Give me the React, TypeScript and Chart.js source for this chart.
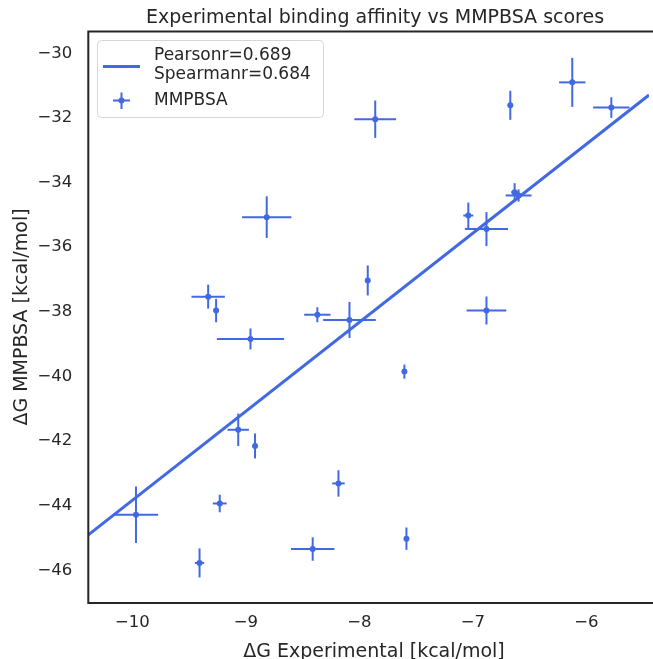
import React, { useEffect, useRef } from "react";
import { Chart, registerables } from "chart.js";

Chart.register(...registerables);

// ---- data ----
const expDG = [-6.125, -5.781, -6.671, -7.861, -6.633, -6.598, -7.041, -6.881, -6.881, -7.927, -8.817, -9.333, -9.263, -8.371, -8.088, -8.96, -7.604, -9.068, -8.92, -8.185, -9.231, -9.969, -8.412, -9.409, -7.586];
const mmpbsaDG = [-30.9, -31.68, -31.61, -32.04, -34.3, -34.4, -35.02, -35.44, -37.96, -37.03, -35.07, -37.53, -37.96, -38.09, -38.25, -38.84, -39.85, -41.65, -42.15, -43.31, -43.93, -44.28, -45.34, -45.77, -45.02];
const expErr = [0.116, 0.16, 0, 0.184, 0.03, 0.114, 0.044, 0.19, 0.175, 0, 0.217, 0.147, 0.02, 0.116, 0.232, 0.296, 0, 0.094, 0, 0.055, 0.061, 0.195, 0.191, 0.041, 0];
const mmpbsaErr = [0.758, 0.319, 0.449, 0.578, 0.28, 0.19, 0.4, 0.526, 0.433, 0.464, 0.643, 0.371, 0.362, 0.232, 0.557, 0.325, 0.217, 0.501, 0.387, 0.408, 0.272, 0.875, 0.362, 0.449, 0.346];
const fitX = [-10.389, -5.449];
const fitY = [-44.9, -31.29];
const xTicks = [-10, -9, -8, -7, -6];
const yTicks = [-46, -44, -42, -40, -38, -36, -34, -32, -30];
const xRange = [-10.389, -5.449];
const yRange = [-47.01, -29.326];

const titleText = "Experimental binding affinity vs MMPBSA scores";
const xLabel = "\u0394G Experimental [kcal/mol]";
const yLabel = "\u0394G MMPBSA [kcal/mol]";
const fitLabel = ["Pearsonr=0.689", "Spearmanr=0.684"];
const seriesLabel = "MMPBSA";

const BLUE = "#4169e1";
const INK = "#262626";
const FONT = "'DejaVu Sans', sans-serif";

const fmt = (v: number) => (v < 0 ? "\u2212" + Math.abs(v) : String(v));

const decorPlugin = {
  id: "decor",
  afterDatasetsDraw(chart: any) {
    const { ctx, chartArea, scales } = chart;
    const xs = scales.x;
    const ys = scales.y;
    ctx.save();
    // error bars
    ctx.strokeStyle = BLUE;
    ctx.lineWidth = 2;
    ctx.lineCap = "butt";
    for (let i = 0; i < expDG.length; i++) {
      const px = xs.getPixelForValue(expDG[i]);
      const py = ys.getPixelForValue(mmpbsaDG[i]);
      if (expErr[i] > 0) {
        const x0 = xs.getPixelForValue(expDG[i] - expErr[i]);
        const x1 = xs.getPixelForValue(expDG[i] + expErr[i]);
        ctx.beginPath();
        ctx.moveTo(x0, py);
        ctx.lineTo(x1, py);
        ctx.stroke();
      }
      if (mmpbsaErr[i] > 0) {
        const y0 = ys.getPixelForValue(mmpbsaDG[i] - mmpbsaErr[i]);
        const y1 = ys.getPixelForValue(mmpbsaDG[i] + mmpbsaErr[i]);
        ctx.beginPath();
        ctx.moveTo(px, y0);
        ctx.lineTo(px, y1);
        ctx.stroke();
      }
    }
    // frame
    ctx.strokeStyle = INK;
    ctx.lineWidth = 2;
    ctx.beginPath();
    ctx.moveTo(chartArea.right + 5, chartArea.top);
    ctx.lineTo(chartArea.left, chartArea.top);
    ctx.lineTo(chartArea.left, chartArea.bottom);
    ctx.lineTo(chartArea.right + 5, chartArea.bottom);
    ctx.stroke();

    // legend
    const lx = 97.5, ly = 40.5, lw = 226, lh = 77, r = 4;
    ctx.beginPath();
    ctx.moveTo(lx + r, ly);
    ctx.lineTo(lx + lw - r, ly);
    ctx.arcTo(lx + lw, ly, lx + lw, ly + r, r);
    ctx.lineTo(lx + lw, ly + lh - r);
    ctx.arcTo(lx + lw, ly + lh, lx + lw - r, ly + lh, r);
    ctx.lineTo(lx + r, ly + lh);
    ctx.arcTo(lx, ly + lh, lx, ly + lh - r, r);
    ctx.lineTo(lx, ly + r);
    ctx.arcTo(lx, ly, lx + r, ly, r);
    ctx.closePath();
    ctx.fillStyle = "rgba(255,255,255,0.8)";
    ctx.fill();
    ctx.strokeStyle = "#d6d6d6";
    ctx.lineWidth = 1;
    ctx.stroke();

    ctx.strokeStyle = BLUE;
    ctx.lineWidth = 3;
    ctx.beginPath();
    ctx.moveTo(103, 66.5);
    ctx.lineTo(140, 66.5);
    ctx.stroke();

    ctx.lineWidth = 2;
    ctx.beginPath();
    ctx.moveTo(113, 100.5);
    ctx.lineTo(130, 100.5);
    ctx.moveTo(121.5, 92.5);
    ctx.lineTo(121.5, 109);
    ctx.stroke();
    ctx.fillStyle = BLUE;
    ctx.beginPath();
    ctx.arc(121.5, 100.5, 3, 0, Math.PI * 2);
    ctx.fill();

    ctx.fillStyle = INK;
    ctx.font = `17px ${FONT}`;
    ctx.textAlign = "left";
    ctx.textBaseline = "middle";
    ctx.fillText(fitLabel[0], 154, 56);
    ctx.fillText(fitLabel[1], 154, 75);
    ctx.fillText(seriesLabel, 154, 101);

    // title & axis labels
    ctx.font = `19px ${FONT}`;
    ctx.textAlign = "center";
    ctx.textBaseline = "alphabetic";
    ctx.fillText(titleText, 375, 23);
    ctx.fillText(xLabel, 374, 657);
    ctx.translate(27, 317);
    ctx.rotate(-Math.PI / 2);
    ctx.fillText(yLabel, 0, 0);
    ctx.restore();
  },
};

export default function App() {
  const ref = useRef<HTMLCanvasElement | null>(null);
  useEffect(() => {
    if (!ref.current) return;
    const chart = new Chart(ref.current, {
      type: "scatter",
      data: {
        datasets: [
          {
            type: "line",
            label: "fit",
            data: fitX.map((x, i) => ({ x, y: fitY[i] })),
            borderColor: BLUE,
            borderWidth: 3,
            pointRadius: 0,
            showLine: true,
            fill: false,
          } as any,
          {
            label: seriesLabel,
            data: expDG.map((x, i) => ({ x, y: mmpbsaDG[i] })),
            backgroundColor: BLUE,
            borderColor: BLUE,
            borderWidth: 0,
            pointRadius: 3,
          },
        ],
      },
      options: {
        responsive: false,
        animation: false,
        devicePixelRatio: 1,
        layout: { padding: { top: 31.5, left: 0, right: 0, bottom: 0 } },
        plugins: {
          legend: { display: false },
          title: { display: false },
          tooltip: { enabled: false },
        },
        scales: {
          x: {
            type: "linear",
            min: xRange[0],
            max: xRange[1],
            grid: { display: false, drawTicks: false },
            border: { display: false },
            afterBuildTicks: (s: any) => {
              s.ticks = xTicks.map((v) => ({ value: v }));
            },
            afterFit: (s: any) => {
              s.height = 56;
            },
            ticks: {
              color: INK,
              padding: 10,
              font: { family: FONT, size: 16.5 },
              maxRotation: 0,
              callback: (v: any) => fmt(Number(v)),
            },
          },
          y: {
            type: "linear",
            min: yRange[0],
            max: yRange[1],
            grid: { display: false, drawTicks: false },
            border: { display: false },
            afterBuildTicks: (s: any) => {
              s.ticks = yTicks.map((v) => ({ value: v }));
            },
            afterFit: (s: any) => {
              s.width = 88.3;
            },
            ticks: {
              color: INK,
              padding: 16,
              font: { family: FONT, size: 16.5 },
              callback: (v: any) => fmt(Number(v)),
            },
          },
        },
      },
      plugins: [decorPlugin],
    });
    return () => chart.destroy();
  }, []);
  return (
    <div style={{ position: "fixed", left: 0, top: 0, width: 653, height: 659, background: "#fff", overflow: "hidden" }}>
      <canvas ref={ref} width={653} height={659} style={{ display: "block" }} />
    </div>
  );
}
